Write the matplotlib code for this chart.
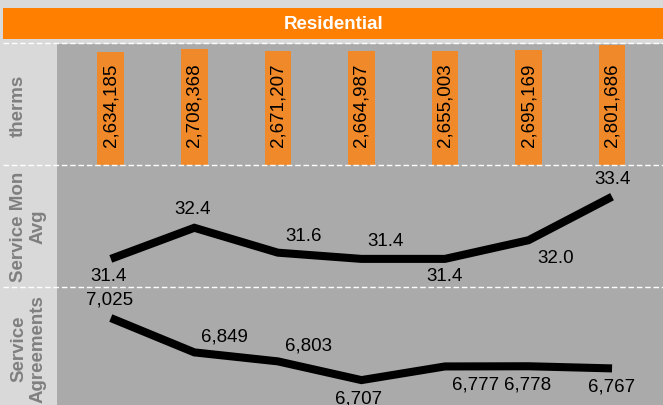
import matplotlib
matplotlib.use("Agg")
import matplotlib.pyplot as plt
from matplotlib.lines import Line2D
from matplotlib.patches import Rectangle

plt.rcParams["font.family"] = ["Liberation Sans", "DejaVu Sans"]

# data
title = "Residential"
therms = [2634185, 2708368, 2671207, 2664987, 2655003, 2695169, 2801686]
service_mon_avg = [31.4, 32.4, 31.6, 31.4, 31.4, 32.0, 33.4]
service_agreements = [7025, 6849, 6803, 6707, 6777, 6778, 6767]
row_labels = ["therms", "Service Mon\nAvg", "Service\nAgreements"]

# label offsets in pixels (dx, dy) for the two line panels
avg_offsets = [(-2, -17), (-2, 19), (26, 17), (24, 18), (0, -17), (27, -17), (0, 18)]
agr_offsets = [(-1, 19), (30, 16), (31, 16), (-3, -18), (31, -18), (-1, -18), (0, -18)]

W, H = 663, 406
BG = "#d9d9d9"
PLOT_BG = "#aaaaaa"
ORANGE = "#ff8000"
BAR = "#f0892a"
GREY_TXT = "#7f7f7f"
FS = 13.5

fig = plt.figure(figsize=(W / 100, H / 100), dpi=100, facecolor=BG)


def fy(px):
    return 1 - px / H


left = 57 / W
x = list(range(len(therms)))
xlim = (-0.644, 6.61)

# panels: (top px, bottom px)
panels = [(45, 166), (166, 288), (288, 410)]
axes = []
for top, bot in panels:
    ax = fig.add_axes([left, fy(bot), 1 - left, (bot - top) / H])
    ax.set_facecolor(PLOT_BG)
    ax.set_xlim(*xlim)
    ax.set_xticks([])
    ax.set_yticks([])
    for s in ax.spines.values():
        s.set_visible(False)
    axes.append(ax)

# therms bars
ax = axes[0]
ax.bar(x, therms, width=0.32, color=BAR, edgecolor="none")
ax.set_ylim(0, 2.825e6)
for xi, v in zip(x, therms):
    ax.text(xi, 0.5, f"{v:,}", transform=ax.get_xaxis_transform(), rotation=90,
            ha="center", va="center", fontsize=FS, color="black")

# service mon avg line
ax = axes[1]
ax.plot(x, service_mon_avg, color="black", lw=5.8, solid_joinstyle="miter", solid_capstyle="butt")
ax.set_ylim(30.496, 34.419)
for xi, v, (dx, dy) in zip(x, service_mon_avg, avg_offsets):
    ax.annotate(f"{v:.1f}", (xi, v), xytext=(dx, dy), textcoords="offset pixels",
                ha="center", va="center", fontsize=FS, color="black")

# service agreements line
ax = axes[2]
ax.plot(x, service_agreements, color="black", lw=5.8, solid_joinstyle="miter", solid_capstyle="butt")
ax.set_ylim(6559, 7184)
for xi, v, (dx, dy) in zip(x, service_agreements, agr_offsets):
    ax.annotate(f"{v:,}", (xi, v), xytext=(dx, dy), textcoords="offset pixels",
                ha="center", va="center", fontsize=FS, color="black", annotation_clip=False)

# row labels
for (top, bot), lab in zip(panels, row_labels):
    fig.text(10 / W, fy((top + bot) / 2), lab, rotation=90, ha="left", va="center",
             multialignment="center", fontsize=FS, fontweight="bold", color=GREY_TXT)

# title bar
fig.add_artist(Rectangle((3 / W, fy(40)), 1 - 3 / W, 31 / H, transform=fig.transFigure,
                         facecolor=ORANGE, edgecolor="none"))
fig.text(334 / W, fy(24.5), title, ha="center", va="center", fontsize=FS,
         fontweight="bold", color="white")

# dashed separators
for ypx in [44, 166, 288]:
    fig.add_artist(Line2D([3 / W, 1], [fy(ypx), fy(ypx)], transform=fig.transFigure,
                          color="white", lw=1, linestyle=(0, (4, 2)), zorder=5))

fig.savefig("out.png", dpi=100, facecolor=BG)
